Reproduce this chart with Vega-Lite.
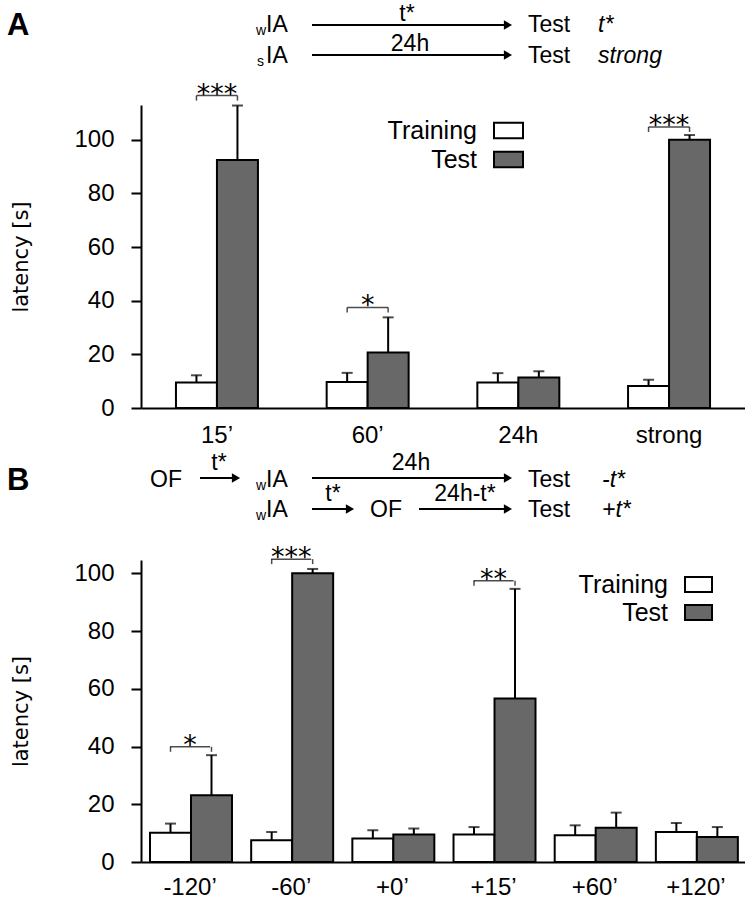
{
  "$schema": "https://vega.github.io/schema/vega-lite/v6.json",
  "padding": {"left": 7, "right": 0, "top": 0, "bottom": 0},
  "bounds": "flush",
  "spacing": 0,
  "resolve": {"scale": {"fill": "independent"}, "legend": {"fill": "independent"}},
  "config": {"view": {"stroke": null}, "font": "Liberation Sans"},
  "datasets": {
    "barsA": [
      {"cond": "15’", "group": "Training", "latency": 9.5, "upper": 12.2},
      {"cond": "15’", "group": "Test", "latency": 92.5, "upper": 112.8},
      {"cond": "60’", "group": "Training", "latency": 9.7, "upper": 13.1},
      {"cond": "60’", "group": "Test", "latency": 20.7, "upper": 33.8},
      {"cond": "24h", "group": "Training", "latency": 9.5, "upper": 13.0},
      {"cond": "24h", "group": "Test", "latency": 11.4, "upper": 13.7},
      {"cond": "strong", "group": "Training", "latency": 8.2, "upper": 10.5},
      {"cond": "strong", "group": "Test", "latency": 100, "upper": 101.8}
    ],
    "sigA": [
      {"cond": "15’", "stars": "***", "level": 116.5},
      {"cond": "60’", "stars": "*", "level": 37.5},
      {"cond": "strong", "stars": "***", "level": 104.8}
    ],
    "barsB": [
      {"cond": "-120’", "group": "Training", "latency": 10.1, "upper": 13.3},
      {"cond": "-120’", "group": "Test", "latency": 23.1, "upper": 37.0},
      {"cond": "-60’", "group": "Training", "latency": 7.5, "upper": 10.4},
      {"cond": "-60’", "group": "Test", "latency": 100, "upper": 101.5},
      {"cond": "+0’", "group": "Training", "latency": 8.1, "upper": 11.0},
      {"cond": "+0’", "group": "Test", "latency": 9.5, "upper": 11.6},
      {"cond": "+15’", "group": "Training", "latency": 9.5, "upper": 12.1},
      {"cond": "+15’", "group": "Test", "latency": 56.6, "upper": 94.6},
      {"cond": "+60’", "group": "Training", "latency": 9.3, "upper": 12.7},
      {"cond": "+60’", "group": "Test", "latency": 11.9, "upper": 17.1},
      {"cond": "+120’", "group": "Training", "latency": 10.4, "upper": 13.5},
      {"cond": "+120’", "group": "Test", "latency": 8.7, "upper": 12.1}
    ],
    "sigB": [
      {"cond": "-120’", "stars": "*", "level": 39.9},
      {"cond": "-60’", "stars": "***", "level": 104.9},
      {"cond": "+15’", "stars": "**", "level": 97.4}
    ],
    "textA": [
      {"role": "panel", "label": "A", "x": -13.4, "y": 7.0},
      {"role": "sub", "label": "w", "x": 11.5, "y": 7.0},
      {"role": "main", "label": "IA", "x": 12.5, "y": 7.3},
      {"role": "above", "label": "t*", "x": 26.6, "y": 8.4},
      {"role": "main", "label": "Test", "x": 38.7, "y": 7.3},
      {"role": "ital", "label": "t*", "x": 45.7, "y": 7.3},
      {"role": "sub", "label": "s", "x": 11.6, "y": 3.9},
      {"role": "main", "label": "IA", "x": 12.5, "y": 4.2},
      {"role": "above", "label": "24h", "x": 26.9, "y": 5.4},
      {"role": "main", "label": "Test", "x": 38.7, "y": 4.2},
      {"role": "ital", "label": "strong", "x": 45.7, "y": 4.2}
    ],
    "arrowsA": [
      {"x1": 17.1, "x2": 36.9, "y": 8.0},
      {"x1": 17.1, "x2": 36.9, "y": 5.0}
    ],
    "textB": [
      {"role": "panel", "label": "B", "x": -13.4, "y": 7.0},
      {"role": "main", "label": "OF", "x": 0.9, "y": 7.3},
      {"role": "above", "label": "t*", "x": 7.8, "y": 9.0},
      {"role": "sub", "label": "w", "x": 11.5, "y": 7.0},
      {"role": "main", "label": "IA", "x": 12.5, "y": 7.3},
      {"role": "above", "label": "24h", "x": 27.0, "y": 9.0},
      {"role": "main", "label": "Test", "x": 38.7, "y": 7.3},
      {"role": "ital", "label": "-t*", "x": 46.1, "y": 7.3},
      {"role": "sub", "label": "w", "x": 11.5, "y": 4.0},
      {"role": "main", "label": "IA", "x": 12.5, "y": 4.3},
      {"role": "above", "label": "t*", "x": 19.2, "y": 5.9},
      {"role": "main", "label": "OF", "x": 22.9, "y": 4.3},
      {"role": "above", "label": "24h-t*", "x": 32.4, "y": 5.9},
      {"role": "main", "label": "Test", "x": 38.7, "y": 4.3},
      {"role": "ital", "label": "+t*", "x": 46.1, "y": 4.3}
    ],
    "arrowsB": [
      {"x1": 5.9, "x2": 9.7, "y": 8.2},
      {"x1": 17.1, "x2": 36.9, "y": 8.2},
      {"x1": 17.1, "x2": 21.1, "y": 5.1},
      {"x1": 27.8, "x2": 36.9, "y": 5.1}
    ]
  },
  "vconcat": [
    {
      "width": 604,
      "height": 105,
      "layer": [
        {
          "data": {"name": "arrowsA"},
          "mark": {"type": "rule", "strokeWidth": 2.2, "color": "black"},
          "encoding": {
            "x": {"field": "x1", "type": "quantitative", "scale": {"domain": [0, 60.4], "nice": false, "zero": false}, "axis": null},
            "x2": {"field": "x2"},
            "y": {"field": "y", "type": "quantitative", "scale": {"domain": [0, 10.5], "nice": false, "zero": false}, "axis": null}
          }
        },
        {
          "data": {"name": "arrowsA"},
          "mark": {"type": "point", "shape": "triangle-right", "filled": true, "size": 90, "color": "black", "opacity": 1, "xOffset": -2},
          "encoding": {
            "x": {"field": "x2", "type": "quantitative"},
            "y": {"field": "y", "type": "quantitative"}
          }
        },
        {
          "data": {"name": "textA"},
          "transform": [{"filter": "datum.role === 'main'"}],
          "mark": {"type": "text", "align": "left", "baseline": "alphabetic", "fontSize": 23, "color": "black"},
          "encoding": {"x": {"field": "x", "type": "quantitative"}, "y": {"field": "y", "type": "quantitative"}, "text": {"field": "label"}}
        },
        {
          "data": {"name": "textA"},
          "transform": [{"filter": "datum.role === 'sub'"}],
          "mark": {"type": "text", "align": "left", "baseline": "alphabetic", "fontSize": 14, "color": "black"},
          "encoding": {"x": {"field": "x", "type": "quantitative"}, "y": {"field": "y", "type": "quantitative"}, "text": {"field": "label"}}
        },
        {
          "data": {"name": "textA"},
          "transform": [{"filter": "datum.role === 'above'"}],
          "mark": {"type": "text", "align": "center", "baseline": "alphabetic", "fontSize": 23, "color": "black"},
          "encoding": {"x": {"field": "x", "type": "quantitative"}, "y": {"field": "y", "type": "quantitative"}, "text": {"field": "label"}}
        },
        {
          "data": {"name": "textA"},
          "transform": [{"filter": "datum.role === 'ital'"}],
          "mark": {"type": "text", "align": "left", "baseline": "alphabetic", "fontSize": 23, "fontStyle": "italic", "color": "black"},
          "encoding": {"x": {"field": "x", "type": "quantitative"}, "y": {"field": "y", "type": "quantitative"}, "text": {"field": "label"}}
        },
        {
          "data": {"name": "textA"},
          "transform": [{"filter": "datum.role === 'panel'"}],
          "mark": {"type": "text", "align": "left", "baseline": "alphabetic", "fontSize": 31, "fontWeight": "bold", "color": "black"},
          "encoding": {"x": {"field": "x", "type": "quantitative"}, "y": {"field": "y", "type": "quantitative"}, "text": {"field": "label"}}
        }
      ]
    },
    {
      "width": 604,
      "height": 303,
      "layer": [
        {
          "data": {"name": "barsA"},
          "mark": {"type": "rule", "strokeWidth": 2, "color": "black"},
          "encoding": {
            "x": {"field": "cond", "type": "nominal", "sort": ["15’", "60’", "24h", "strong"], "title": null,
                  "scale": {"paddingInner": 0.456, "paddingOuter": 0.232},
                  "axis": {"labelAngle": 0, "labelFontSize": 24, "labelColor": "black", "labelPadding": 15, "ticks": false, "domainColor": "black", "domainWidth": 2}},
            "xOffset": {"field": "group", "sort": ["Training", "Test"]},
            "y": {"field": "latency", "type": "quantitative", "title": "latency [s]",
                  "scale": {"domain": [0, 113], "nice": false},
                  "axis": {"values": [0, 20, 40, 60, 80, 100], "grid": false, "titleFont": "DejaVu Sans", "titleFontSize": 21, "titleFontWeight": "normal", "titleColor": "black", "titlePadding": 42, "labelFontSize": 24, "labelColor": "black", "labelPadding": 17, "tickSize": 10, "tickWidth": 2, "tickColor": "black", "domainColor": "black", "domainWidth": 2}},
            "y2": {"field": "upper"}
          }
        },
        {
          "data": {"name": "barsA"},
          "mark": {"type": "tick", "orient": "horizontal", "size": 11, "thickness": 2, "color": "black"},
          "encoding": {
            "x": {"field": "cond", "type": "nominal", "sort": ["15’", "60’", "24h", "strong"], "title": null},
            "xOffset": {"field": "group", "sort": ["Training", "Test"]},
            "y": {"field": "upper", "type": "quantitative", "title": "latency [s]"}
          }
        },
        {
          "data": {"name": "barsA"},
          "mark": {"type": "bar", "stroke": "black", "strokeWidth": 2},
          "encoding": {
            "x": {"field": "cond", "type": "nominal", "sort": ["15’", "60’", "24h", "strong"], "title": null},
            "xOffset": {"field": "group", "sort": ["Training", "Test"]},
            "y": {"field": "latency", "type": "quantitative", "title": "latency [s]"},
            "fill": {"field": "group", "type": "nominal", "sort": ["Training", "Test"],
                     "scale": {"domain": ["Training", "Test"], "range": ["#ffffff", "#686868"]},
                     "legend": {"orient": "none", "legendX": 352, "legendY": 10, "title": null, "padding": 0,
                                "symbolType": "M-1,-0.53H1V0.53H-1Z", "symbolSize": 841, "symbolStrokeColor": "black", "symbolStrokeWidth": 2,
                                "labelAlign": "right", "labelOffset": -47, "labelFontSize": 25, "labelColor": "black", "rowPadding": -1}}
          }
        },
        {
          "data": {"name": "sigA"},
          "mark": {"type": "tick", "orient": "horizontal", "size": 41, "thickness": 1.5, "color": "black"},
          "encoding": {
            "x": {"field": "cond", "type": "nominal", "sort": ["15’", "60’", "24h", "strong"], "title": null},
            "y": {"field": "level", "type": "quantitative", "title": "latency [s]"}
          }
        },
        {
          "data": {"name": "barsA"},
          "transform": [
            {"lookup": "cond", "from": {"data": {"name": "sigA"}, "key": "cond", "fields": ["level"]}},
            {"filter": "isValid(datum.level)"}
          ],
          "mark": {"type": "tick", "orient": "vertical", "size": 5, "thickness": 1.5, "yOffset": 2.5, "color": "black"},
          "encoding": {
            "x": {"field": "cond", "type": "nominal", "sort": ["15’", "60’", "24h", "strong"], "title": null},
            "xOffset": {"field": "group", "sort": ["Training", "Test"]},
            "y": {"field": "level", "type": "quantitative", "title": "latency [s]"}
          }
        },
        {
          "data": {"name": "sigA"},
          "mark": {"type": "text", "font": "DejaVu Sans", "fontSize": 27, "baseline": "alphabetic", "dy": 7, "color": "black"},
          "encoding": {
            "x": {"field": "cond", "type": "nominal", "sort": ["15’", "60’", "24h", "strong"], "title": null},
            "y": {"field": "level", "type": "quantitative", "title": "latency [s]"},
            "text": {"field": "stars"}
          }
        }
      ]
    },
    {
      "width": 604,
      "height": 152,
      "layer": [
        {
          "data": {"name": "arrowsB"},
          "mark": {"type": "rule", "strokeWidth": 2.2, "color": "black"},
          "encoding": {
            "x": {"field": "x1", "type": "quantitative", "scale": {"domain": [0, 60.4], "nice": false, "zero": false}, "axis": null},
            "x2": {"field": "x2"},
            "y": {"field": "y", "type": "quantitative", "scale": {"domain": [0, 15.2], "nice": false, "zero": false}, "axis": null}
          }
        },
        {
          "data": {"name": "arrowsB"},
          "mark": {"type": "point", "shape": "triangle-right", "filled": true, "size": 90, "color": "black", "opacity": 1, "xOffset": -2},
          "encoding": {
            "x": {"field": "x2", "type": "quantitative"},
            "y": {"field": "y", "type": "quantitative"}
          }
        },
        {
          "data": {"name": "textB"},
          "transform": [{"filter": "datum.role === 'main'"}],
          "mark": {"type": "text", "align": "left", "baseline": "alphabetic", "fontSize": 23, "color": "black"},
          "encoding": {"x": {"field": "x", "type": "quantitative"}, "y": {"field": "y", "type": "quantitative"}, "text": {"field": "label"}}
        },
        {
          "data": {"name": "textB"},
          "transform": [{"filter": "datum.role === 'sub'"}],
          "mark": {"type": "text", "align": "left", "baseline": "alphabetic", "fontSize": 14, "color": "black"},
          "encoding": {"x": {"field": "x", "type": "quantitative"}, "y": {"field": "y", "type": "quantitative"}, "text": {"field": "label"}}
        },
        {
          "data": {"name": "textB"},
          "transform": [{"filter": "datum.role === 'above'"}],
          "mark": {"type": "text", "align": "center", "baseline": "alphabetic", "fontSize": 23, "color": "black"},
          "encoding": {"x": {"field": "x", "type": "quantitative"}, "y": {"field": "y", "type": "quantitative"}, "text": {"field": "label"}}
        },
        {
          "data": {"name": "textB"},
          "transform": [{"filter": "datum.role === 'ital'"}],
          "mark": {"type": "text", "align": "left", "baseline": "alphabetic", "fontSize": 23, "fontStyle": "italic", "color": "black"},
          "encoding": {"x": {"field": "x", "type": "quantitative"}, "y": {"field": "y", "type": "quantitative"}, "text": {"field": "label"}}
        },
        {
          "data": {"name": "textB"},
          "transform": [{"filter": "datum.role === 'panel'"}],
          "mark": {"type": "text", "align": "left", "baseline": "alphabetic", "fontSize": 31, "fontWeight": "bold", "color": "black"},
          "encoding": {"x": {"field": "x", "type": "quantitative"}, "y": {"field": "y", "type": "quantitative"}, "text": {"field": "label"}}
        }
      ]
    },
    {
      "width": 604,
      "height": 302,
      "layer": [
        {
          "data": {"name": "barsB"},
          "mark": {"type": "rule", "strokeWidth": 2, "color": "black"},
          "encoding": {
            "x": {"field": "cond", "type": "nominal", "sort": ["-120’", "-60’", "+0’", "+15’", "+60’", "+120’"], "title": null,
                  "scale": {"paddingInner": 0.208, "paddingOuter": 0.089},
                  "axis": {"labelAngle": 0, "labelFontSize": 24, "labelColor": "black", "labelPadding": 13, "ticks": false, "domainColor": "black", "domainWidth": 2}},
            "xOffset": {"field": "group", "sort": ["Training", "Test"]},
            "y": {"field": "latency", "type": "quantitative", "title": "latency [s]",
                  "scale": {"domain": [0, 104.6], "nice": false},
                  "axis": {"values": [0, 20, 40, 60, 80, 100], "grid": false, "titleFont": "DejaVu Sans", "titleFontSize": 21, "titleFontWeight": "normal", "titleColor": "black", "titlePadding": 42, "labelFontSize": 24, "labelColor": "black", "labelPadding": 17, "tickSize": 10, "tickWidth": 2, "tickColor": "black", "domainColor": "black", "domainWidth": 2}},
            "y2": {"field": "upper"}
          }
        },
        {
          "data": {"name": "barsB"},
          "mark": {"type": "tick", "orient": "horizontal", "size": 11, "thickness": 2, "color": "black"},
          "encoding": {
            "x": {"field": "cond", "type": "nominal", "sort": ["-120’", "-60’", "+0’", "+15’", "+60’", "+120’"], "title": null},
            "xOffset": {"field": "group", "sort": ["Training", "Test"]},
            "y": {"field": "upper", "type": "quantitative", "title": "latency [s]"}
          }
        },
        {
          "data": {"name": "barsB"},
          "mark": {"type": "bar", "stroke": "black", "strokeWidth": 2},
          "encoding": {
            "x": {"field": "cond", "type": "nominal", "sort": ["-120’", "-60’", "+0’", "+15’", "+60’", "+120’"], "title": null},
            "xOffset": {"field": "group", "sort": ["Training", "Test"]},
            "y": {"field": "latency", "type": "quantitative", "title": "latency [s]"},
            "fill": {"field": "group", "type": "nominal", "sort": ["Training", "Test"],
                     "scale": {"domain": ["Training", "Test"], "range": ["#ffffff", "#686868"]},
                     "legend": {"orient": "none", "legendX": 543, "legendY": 10, "title": null, "padding": 0,
                                "symbolType": "M-1,-0.55H1V0.55H-1Z", "symbolSize": 729, "symbolStrokeColor": "black", "symbolStrokeWidth": 2,
                                "labelAlign": "right", "labelOffset": -45, "labelFontSize": 25, "labelColor": "black", "rowPadding": 0}}
          }
        },
        {
          "data": {"name": "sigB"},
          "mark": {"type": "tick", "orient": "horizontal", "size": 40, "thickness": 1.5, "color": "black"},
          "encoding": {
            "x": {"field": "cond", "type": "nominal", "sort": ["-120’", "-60’", "+0’", "+15’", "+60’", "+120’"], "title": null},
            "y": {"field": "level", "type": "quantitative", "title": "latency [s]"}
          }
        },
        {
          "data": {"name": "barsB"},
          "transform": [
            {"lookup": "cond", "from": {"data": {"name": "sigB"}, "key": "cond", "fields": ["level"]}},
            {"filter": "isValid(datum.level)"}
          ],
          "mark": {"type": "tick", "orient": "vertical", "size": 5, "thickness": 1.5, "yOffset": 2.5, "color": "black"},
          "encoding": {
            "x": {"field": "cond", "type": "nominal", "sort": ["-120’", "-60’", "+0’", "+15’", "+60’", "+120’"], "title": null},
            "xOffset": {"field": "group", "sort": ["Training", "Test"]},
            "y": {"field": "level", "type": "quantitative", "title": "latency [s]"}
          }
        },
        {
          "data": {"name": "sigB"},
          "mark": {"type": "text", "font": "DejaVu Sans", "fontSize": 27, "baseline": "alphabetic", "dy": 7, "color": "black"},
          "encoding": {
            "x": {"field": "cond", "type": "nominal", "sort": ["-120’", "-60’", "+0’", "+15’", "+60’", "+120’"], "title": null},
            "y": {"field": "level", "type": "quantitative", "title": "latency [s]"},
            "text": {"field": "stars"}
          }
        }
      ]
    }
  ]
}
